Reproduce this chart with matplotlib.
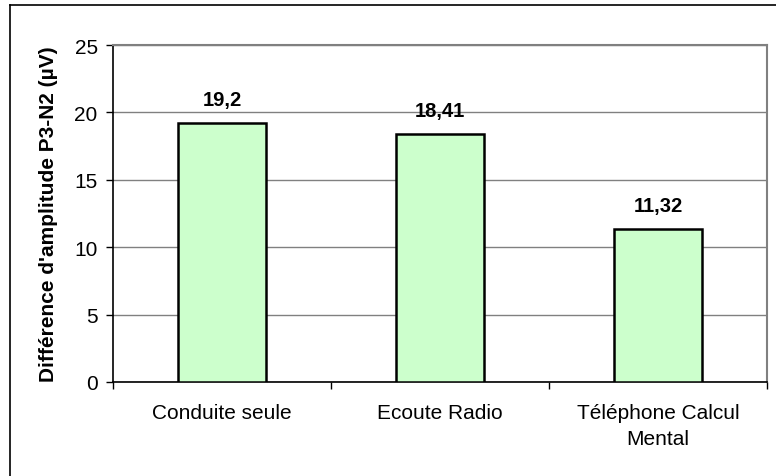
import matplotlib.pyplot as plt
from matplotlib.lines import Line2D

plt.rcParams['font.family'] = ['Liberation Sans', 'DejaVu Sans']

categories = ['Conduite seule', 'Ecoute Radio', 'Téléphone Calcul\nMental']
values = [19.2, 18.41, 11.32]
value_labels = ['19,2', '18,41', '11,32']

fig = plt.figure(figsize=(7.76, 4.77), dpi=100)
ax = fig.add_axes([113 / 776, 1 - 383 / 477, (767 - 113) / 776, (383 - 46) / 477])

x = range(len(categories))
ax.bar(x, values, width=0.4, color='#CCFFCC', edgecolor='black', linewidth=1.8, zorder=3)

for xi, v, lab in zip(x, values, value_labels):
    ax.text(xi, v + 1.05, lab, ha='center', va='bottom', fontsize=14.5, fontweight='bold')

ax.set_xlim(-0.5, 2.5)
ax.set_ylim(0, 25)
ax.set_yticks([0, 5, 10, 15, 20, 25])
ax.yaxis.grid(True, color='#808080', linewidth=1, zorder=0)
ax.set_axisbelow(True)

ax.set_xticks(x)
ax.set_xticklabels(categories, fontsize=15, linespacing=1.45)
ax.tick_params(axis='x', length=0, pad=15)
ax.set_xticks([-0.5, 0.5, 1.5, 2.5], minor=True)
ax.tick_params(axis='x', which='minor', length=5, width=1, color='black', direction='out')
ax.tick_params(axis='y', length=5, width=1, direction='out', labelsize=15, pad=6)

ax.set_ylabel("Différence d'amplitude P3-N2 (µV)", fontsize=15, fontweight='bold', labelpad=12)

for side in ['top', 'right']:
    ax.spines[side].set_color('#808080')
    ax.spines[side].set_linewidth(1.5)
for side in ['left', 'bottom']:
    ax.spines[side].set_color('black')
    ax.spines[side].set_linewidth(1.2)

# outer chart frame (partially cut off at right and bottom)
fig.add_artist(Line2D([10 / 776, 10 / 776], [0, 1 - 6 / 477], color='black', linewidth=1.2,
                      transform=fig.transFigure))
fig.add_artist(Line2D([10 / 776, 1], [1 - 6 / 477, 1 - 6 / 477], color='black', linewidth=1.2,
                      transform=fig.transFigure))

fig.savefig('out.png', dpi=100)
